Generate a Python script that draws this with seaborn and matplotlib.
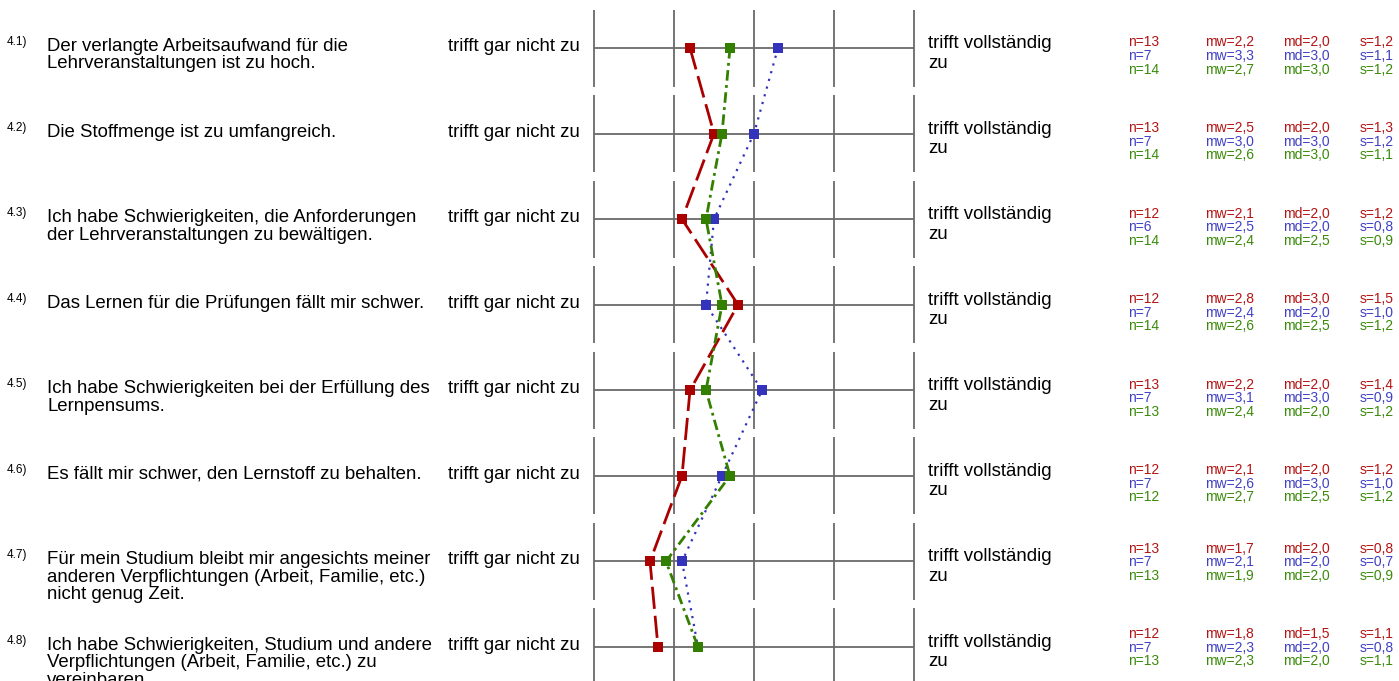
import numpy as np
import matplotlib
matplotlib.use('Agg')
import matplotlib.pyplot as plt
import matplotlib.transforms as mtransforms
import seaborn as sns

# survey items (section 4)
ITEM_NUMBERS = ['4.1)', '4.2)', '4.3)', '4.4)', '4.5)', '4.6)', '4.7)', '4.8)']
ITEM_TEXTS = [
    'Der verlangte Arbeitsaufwand für die\nLehrveranstaltungen ist zu hoch.',
    'Die Stoffmenge ist zu umfangreich.',
    'Ich habe Schwierigkeiten, die Anforderungen\nder Lehrveranstaltungen zu bewältigen.',
    'Das Lernen für die Prüfungen fällt mir schwer.',
    'Ich habe Schwierigkeiten bei der Erfüllung des\nLernpensums.',
    'Es fällt mir schwer, den Lernstoff zu behalten.',
    'Für mein Studium bleibt mir angesichts meiner\nanderen Verpflichtungen (Arbeit, Familie, etc.)\nnicht genug Zeit.',
    'Ich habe Schwierigkeiten, Studium und andere\nVerpflichtungen (Arbeit, Familie, etc.) zu\nvereinbaren.',
]
LEFT_POLE = 'trifft gar nicht zu'
RIGHT_POLE = 'trifft vollständig\nzu'
SCALE = [1, 2, 3, 4, 5]

n_red = [13, 13, 12, 12, 13, 12, 13, 12]
mw_red = [2.2, 2.5, 2.1, 2.8, 2.2, 2.1, 1.7, 1.8]
md_red = [2.0, 2.0, 2.0, 3.0, 2.0, 2.0, 2.0, 1.5]
s_red = [1.2, 1.3, 1.2, 1.5, 1.4, 1.2, 0.8, 1.1]

n_blue = [7, 7, 6, 7, 7, 7, 7, 7]
mw_blue = [3.3, 3.0, 2.5, 2.4, 3.1, 2.6, 2.1, 2.3]
md_blue = [3.0, 3.0, 2.0, 2.0, 3.0, 3.0, 2.0, 2.0]
s_blue = [1.1, 1.2, 0.8, 1.0, 0.9, 1.0, 0.7, 0.8]

n_green = [14, 14, 14, 14, 13, 12, 13, 13]
mw_green = [2.7, 2.6, 2.4, 2.6, 2.4, 2.7, 1.9, 2.3]
md_green = [3.0, 3.0, 2.5, 2.5, 2.0, 2.5, 2.0, 2.0]
s_green = [1.2, 1.1, 0.9, 1.2, 1.2, 1.2, 0.9, 1.1]

W, H = 1399, 681
ROW_PX = 85.57
FIRST_ROW_PX = 48
X0_PX = 594
UNIT_PX = 80
LINE_PX = 17.5

sns.set_style('white')
plt.rcParams['font.family'] = ['Liberation Sans', 'DejaVu Sans']
plt.rcParams['text.color'] = 'black'

fig = plt.figure(figsize=(W / 100, H / 100), dpi=100)
ax = fig.add_axes([0, 0, 1, 1])
ax.set_axis_off()
ax.set_xlim(1 - X0_PX / UNIT_PX, 1 + (W - X0_PX) / UNIT_PX)
ax.set_ylim((H - FIRST_ROW_PX) / ROW_PX, -FIRST_ROW_PX / ROW_PX)

rows = np.arange(len(ITEM_TEXTS))
grid_col = '#6a6a6a'
half = 38.5 / ROW_PX

ax.hlines(rows, SCALE[0], SCALE[-1], color=grid_col, lw=1.3, zorder=1)
for x in SCALE:
    ax.vlines(np.full(len(rows), x), rows - half, rows + half, color=grid_col, lw=1.3, zorder=1)

groups = [
    ('#aa0000', '#b41414', mw_red, n_red, md_red, s_red, (0, (8, 2.5))),
    ('#3333bb', '#4040c4', mw_blue, n_blue, md_blue, s_blue, (0, (1, 2.6))),
    ('#338000', '#3a8a0a', mw_green, n_green, md_green, s_green, (0, (3.8, 1.6, 1, 1.6))),
]

for color, tcolor, mw, n, md, s, ls in groups:
    lw = 1.6 if ls[1][0] == 1 else 2.0
    sns.lineplot(x=mw, y=rows, sort=False, estimator=None, color=color, lw=lw,
                 linestyle=ls, marker='s', markersize=7, markeredgewidth=0,
                 legend=False, ax=ax, zorder=3)

trans = mtransforms.blended_transform_factory(ax.transAxes, ax.transData)


def ty(row, off_px):
    return row + off_px / ROW_PX


def put_lines(xp, row, off_px, text, step=LINE_PX, **kw):
    for k, line in enumerate(text.split('\n')):
        ax.text(xp / W, ty(row, off_px + step * k), line, transform=trans,
                va='baseline', **kw)


for i in rows:
    n_lines = ITEM_TEXTS[i].count('\n') + 1
    ax.text(7 / W, ty(i, -3), ITEM_NUMBERS[i], transform=trans, fontsize=8.5, va='baseline')
    put_lines(47, i, 3, ITEM_TEXTS[i], fontsize=13.4)
    put_lines(448, i, 3, LEFT_POLE, fontsize=13.4)
    put_lines(928, i, 0, RIGHT_POLE, step=19.5, fontsize=13.4)
    shift = 0 if n_lines < 3 else -7
    for k, (color, tcolor, mw, n, md, s, ls) in enumerate(groups):
        yy = ty(i, -1.5 + 13.5 * k + shift)
        vals = [f'n={n[i]}',
                f'mw={mw[i]:.1f}'.replace('.', ','),
                f'md={md[i]:.1f}'.replace('.', ','),
                f's={s[i]:.1f}'.replace('.', ',')]
        for xp, v in zip([1128, 1205, 1283, 1360], vals):
            ax.text(xp / W, yy, v, transform=trans, fontsize=10, color=tcolor, va='baseline')

fig.savefig('out.png', dpi=100)
